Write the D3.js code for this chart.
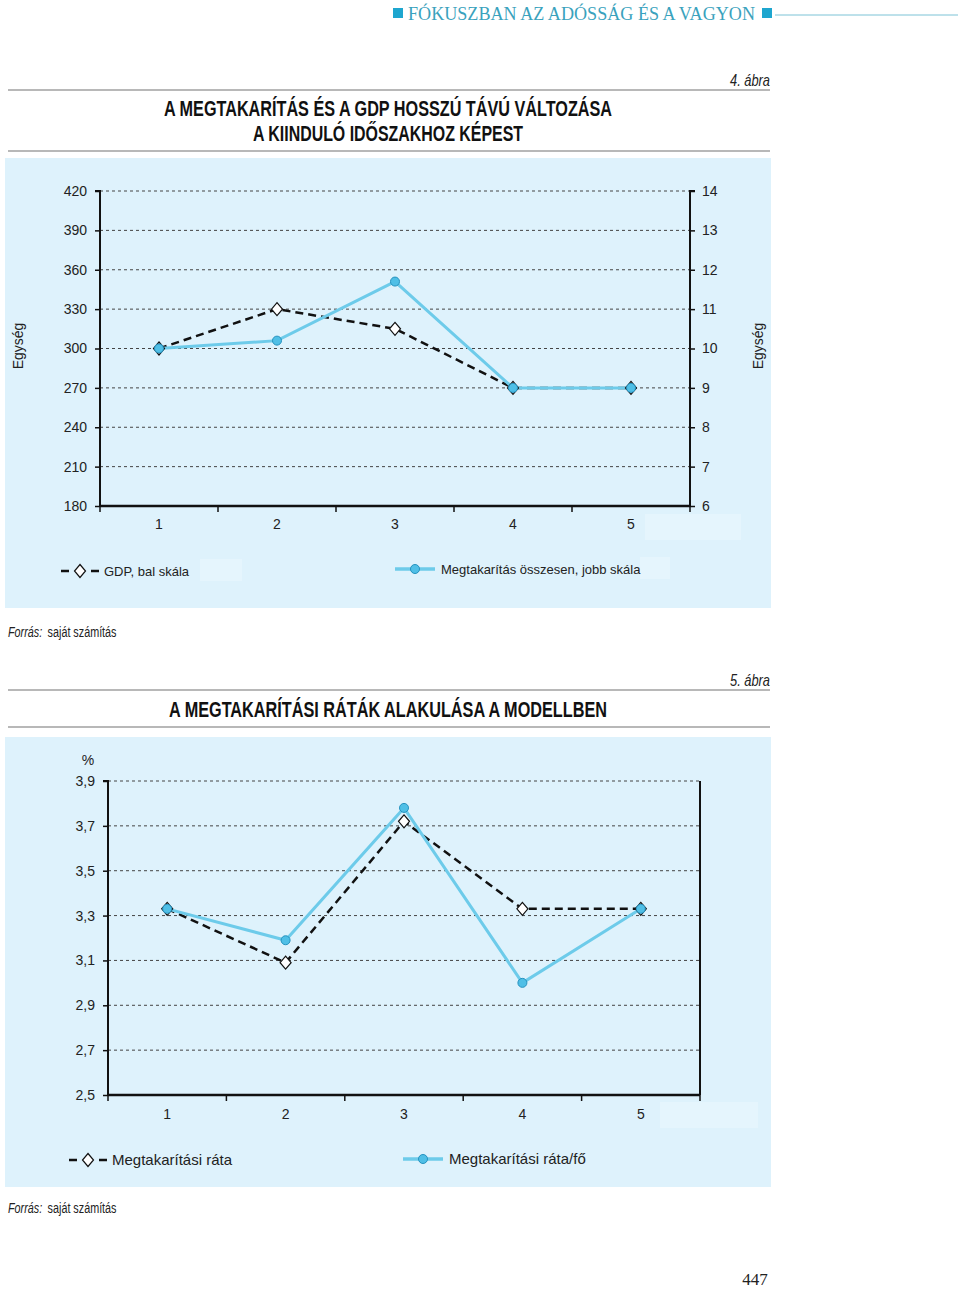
<!DOCTYPE html>
<html><head><meta charset="utf-8">
<script src="https://cdn.jsdelivr.net/npm/d3@7"></script>
<style>
html,body{margin:0;padding:0;background:#fff;}
svg{display:block;}
</style></head>
<body>
<script>
// ---------- DATA ----------
const categories = ["1","2","3","4","5"];
// Chart 4
const gdpLeft = [300, 330, 315, 270, 270];
const savingsRight = [10, 10.2, 11.7, 9, 9];
const leftTicks = [180, 210, 240, 270, 300, 330, 360, 390, 420];
const rightTicks = [6, 7, 8, 9, 10, 11, 12, 13, 14];
// Chart 5
const savingRate = [3.33, 3.09, 3.72, 3.33, 3.33];
const savingRatePerCapita = [3.33, 3.19, 3.78, 3.0, 3.33];
const rateTicks = [2.5, 2.7, 2.9, 3.1, 3.3, 3.5, 3.7, 3.9];

const header = "FÓKUSZBAN AZ ADÓSSÁG ÉS A VAGYON";
const title4 = ["A MEGTAKARÍTÁS ÉS A GDP HOSSZÚ TÁVÚ VÁLTOZÁSA", "A KIINDULÓ IDŐSZAKHOZ KÉPEST"];
const title5 = "A MEGTAKARÍTÁSI RÁTÁK ALAKULÁSA A MODELLBEN";
const legend4 = ["GDP, bal skála", "Megtakarítás összesen, jobb skála"];
const legend5 = ["Megtakarítási ráta", "Megtakarítási ráta/fő"];

// ---------- STYLE ----------
const panelFill = "#def2fc";
const blue = "#6dcbea";
const markerFill = "#4fbfe6";
const markerStroke = "#2592bf";
const sans = "'Liberation Sans', Arial, sans-serif";
const narrow = "'Liberation Sans Narrow', 'Arial Narrow', 'Liberation Sans', sans-serif";

const svg = d3.select("body").append("svg").attr("width", 960).attr("height", 1289);

// Header
svg.append("rect").attr("x", 393).attr("y", 8).attr("width", 10).attr("height", 10).attr("fill", "#1ea6cf");
svg.append("text").attr("x", 408).attr("y", 20).attr("font-family", "'Liberation Serif','DejaVu Serif',serif")
  .attr("font-size", 18).attr("fill", "#3aa2bd").attr("textLength", 347).attr("lengthAdjust", "spacingAndGlyphs").text(header);
svg.append("rect").attr("x", 762).attr("y", 8).attr("width", 10).attr("height", 10).attr("fill", "#1ea6cf");
svg.append("line").attr("x1", 775).attr("x2", 958).attr("y1", 15).attr("y2", 15).attr("stroke", "#7cc3d6").attr("stroke-width", 1);

function figHeader(label, labelY, line1Y, titles, titleYs, widths, line2Y) {
  svg.append("text").attr("x", 770).attr("y", labelY).attr("text-anchor", "end")
    .attr("font-family", narrow).attr("font-style", "italic").attr("font-size", 17).attr("fill", "#222")
    .attr("textLength", 40).attr("lengthAdjust", "spacingAndGlyphs").text(label);
  svg.append("line").attr("x1", 8).attr("x2", 770).attr("y1", line1Y).attr("y2", line1Y).attr("stroke", "#a0a0a0").attr("stroke-width", 1.5);
  titles.forEach((t, i) => {
    svg.append("text").attr("x", 388).attr("y", titleYs[i]).attr("text-anchor", "middle")
      .attr("font-family", narrow).attr("font-weight", "bold").attr("font-size", 22).attr("fill", "#111")
      .attr("textLength", widths[i]).attr("lengthAdjust", "spacingAndGlyphs").text(t);
  });
  svg.append("line").attr("x1", 8).attr("x2", 770).attr("y1", line2Y).attr("y2", line2Y).attr("stroke", "#a0a0a0").attr("stroke-width", 1.5);
}

function source(y) {
  const g = svg.append("g").attr("transform", `translate(8,${y}) scale(0.72,1)`)
    .attr("font-family", sans).attr("font-size", 15).attr("fill", "#222");
  g.append("text").attr("x", 0).attr("y", 0).attr("font-style", "italic").text("Forrás:");
  g.append("text").attr("x", 55).attr("y", 0).text("saját számítás");
}

function diamond(g, cx, cy) {
  g.append("path").attr("d", `M${cx},${cy-6.5}L${cx+5.5},${cy}L${cx},${cy+6.5}L${cx-5.5},${cy}Z`)
    .attr("fill", "#fff").attr("stroke", "#111").attr("stroke-width", 1.2);
}
function circ(g, cx, cy) {
  g.append("circle").attr("cx", cx).attr("cy", cy).attr("r", 4.5)
    .attr("fill", markerFill).attr("stroke", markerStroke).attr("stroke-width", 1);
}

function lineChart(cfg) {
  const g = svg.append("g");
  g.append("rect").attr("x", 5).attr("y", cfg.panelTop).attr("width", 766).attr("height", cfg.panelH).attr("fill", panelFill);
  cfg.ghosts.forEach(b => g.append("rect").attr("x", b[0]).attr("y", b[1]).attr("width", b[2]).attr("height", b[3]).attr("fill", "#e5f5fd"));

  const x = d3.scaleBand().domain(categories).range([cfg.x0, cfg.x1]);
  const y = d3.scaleLinear().domain(cfg.yDomain).range([cfg.yBottom, cfg.yTop]);

  g.append("g").selectAll("line").data(cfg.yTicks.slice(1)).join("line")
    .attr("x1", cfg.x0).attr("x2", cfg.x1).attr("y1", d => y(d)).attr("y2", d => y(d))
    .attr("stroke", "#444").attr("stroke-width", 1).attr("stroke-dasharray", "3,3");

  const la = g.append("g").attr("transform", `translate(${cfg.x0},0)`)
    .call(d3.axisLeft(y).tickValues(cfg.yTicks).tickSize(5).tickPadding(cfg.leftPad).tickFormat(cfg.fmt));
  la.select(".domain").attr("stroke", "#111").attr("stroke-width", 2).attr("d", `M-5,${y(cfg.yDomain[1])}H0V${cfg.yBottom}`);
  la.selectAll(".tick line").attr("stroke", "#111").attr("stroke-width", 1.5);
  la.selectAll("text").attr("font-family", sans).attr("font-size", 14).attr("fill", "#222");

  if (cfg.yR) {
    const yR = d3.scaleLinear().domain(cfg.yR).range([cfg.yBottom, cfg.yTop]);
    const ra = g.append("g").attr("transform", `translate(${cfg.x1},0)`)
      .call(d3.axisRight(yR).tickValues(cfg.rTicks).tickSize(5).tickPadding(7));
    ra.select(".domain").attr("stroke", "#111").attr("stroke-width", 2).attr("d", `M5,${cfg.yTop}H0V${cfg.yBottom}`);
    ra.selectAll(".tick line").attr("stroke", "#111").attr("stroke-width", 1.5);
    ra.selectAll("text").attr("font-family", sans).attr("font-size", 14).attr("fill", "#222");
    cfg.yRscale = yR;
  } else {
    g.append("line").attr("x1", cfg.x1).attr("x2", cfg.x1).attr("y1", cfg.yTop).attr("y2", cfg.yBottom).attr("stroke", "#111").attr("stroke-width", 2);
  }

  g.append("line").attr("x1", cfg.x0).attr("x2", cfg.x1).attr("y1", cfg.yBottom).attr("y2", cfg.yBottom).attr("stroke", "#111").attr("stroke-width", 2.5);
  const bounds = categories.map(c => x(c)).concat([x(categories[categories.length-1]) + x.bandwidth()]);
  g.append("g").selectAll("line").data(bounds).join("line")
    .attr("x1", d => d).attr("x2", d => d).attr("y1", cfg.yBottom).attr("y2", cfg.yBottom + 6)
    .attr("stroke", "#111").attr("stroke-width", 1.5);
  const ba = g.append("g").attr("transform", `translate(0,${cfg.yBottom})`)
    .call(d3.axisBottom(x).tickSize(0).tickPadding(cfg.xPad));
  ba.select(".domain").remove();
  ba.selectAll("text").attr("font-family", sans).attr("font-size", 14).attr("fill", "#222");

  const cx = d => x(d) + x.bandwidth() / 2;
  const yA = y;
  const yB = cfg.yRscale || y;
  g.append("path").datum(cfg.seriesA)
    .attr("d", d3.line().x((d, i) => cx(categories[i])).y(d => yA(d)))
    .attr("fill", "none").attr("stroke", "#111").attr("stroke-width", 2.5).attr("stroke-dasharray", "8,5");
  g.append("path").datum(cfg.seriesB)
    .attr("d", d3.line().x((d, i) => cx(categories[i])).y(d => yB(d)))
    .attr("fill", "none").attr("stroke", blue).attr("stroke-width", 3);
  cfg.seriesA.forEach((d, i) => diamond(g, cx(categories[i]), yA(d)));
  cfg.seriesB.forEach((d, i) => circ(g, cx(categories[i]), yB(d)));

  const L = cfg.legend;
  g.append("line").attr("x1", L.ax).attr("x2", L.ax + 40).attr("y1", L.y).attr("y2", L.y)
    .attr("stroke", "#111").attr("stroke-width", 2.5).attr("stroke-dasharray", "8,7").attr("stroke-dashoffset", -1);
  g.append("rect").attr("x", L.ax + 10).attr("y", L.y - 8).attr("width", 20).attr("height", 16).attr("fill", panelFill);
  diamond(g, L.ax + 20, L.y);
  g.append("text").attr("x", L.ax + 44).attr("y", L.y).attr("dy", "0.35em").attr("font-family", sans)
    .attr("font-size", L.fs).attr("fill", "#222").text(L.a);
  g.append("line").attr("x1", L.bx).attr("x2", L.bx + 40).attr("y1", L.y2).attr("y2", L.y2)
    .attr("stroke", blue).attr("stroke-width", 3.5);
  circ(g, L.bx + 20, L.y2);
  g.append("text").attr("x", L.bx + 46).attr("y", L.y2).attr("dy", "0.35em").attr("font-family", sans)
    .attr("font-size", L.fs).attr("fill", "#222").text(L.b);
}

// ---------- FIGURE 4 ----------
figHeader("4. ábra", 86, 90, title4, [116, 141], [448, 270], 151);
lineChart({
  panelTop: 158, panelH: 450,
  x0: 100, x1: 690, yTop: 191, yBottom: 506,
  yDomain: [180, 420], yTicks: leftTicks, fmt: d3.format("d"), leftPad: 8,
  yR: [6, 14], rTicks: rightTicks, xPad: 13,
  seriesA: gdpLeft, seriesB: savingsRight,
  ghosts: [[645, 514, 96, 26], [200, 559, 42, 22], [640, 557, 30, 22]],
  legend: { ax: 60, y: 571, bx: 395, y2: 569, a: legend4[0], b: legend4[1], fs: 13 }
});
svg.append("text").attr("x", 18).attr("y", 346).attr("transform", "rotate(-90,18,346)").attr("text-anchor", "middle")
  .attr("dy", "0.35em").attr("font-family", sans).attr("font-size", 14).attr("fill", "#222").text("Egység");
svg.append("text").attr("x", 758).attr("y", 346).attr("transform", "rotate(-90,758,346)").attr("text-anchor", "middle")
  .attr("dy", "0.35em").attr("font-family", sans).attr("font-size", 14).attr("fill", "#222").text("Egység");
source(637);

// ---------- FIGURE 5 ----------
figHeader("5. ábra", 686, 690, [title5], [717], [438], 727);
lineChart({
  panelTop: 737, panelH: 450,
  x0: 108, x1: 700, yTop: 781, yBottom: 1095,
  yDomain: [2.5, 3.9], yTicks: rateTicks, fmt: d => d3.format(".1f")(d).replace(".", ","), leftPad: 8,
  yR: null, xPad: 14,
  seriesA: savingRate, seriesB: savingRatePerCapita,
  ghosts: [[660, 1102, 98, 26]],
  legend: { ax: 68, y: 1160, bx: 403, y2: 1159, a: legend5[0], b: legend5[1], fs: 15 }
});
svg.append("text").attr("x", 88).attr("y", 760).attr("text-anchor", "middle").attr("dy", "0.35em")
  .attr("font-family", sans).attr("font-size", 14).attr("fill", "#222").text("%");
source(1213);

svg.append("text").attr("x", 755).attr("y", 1285).attr("text-anchor", "middle")
  .attr("font-family", "'Liberation Serif','DejaVu Serif',serif").attr("font-size", 17).attr("fill", "#222").text("447");
</script>
</body></html>
